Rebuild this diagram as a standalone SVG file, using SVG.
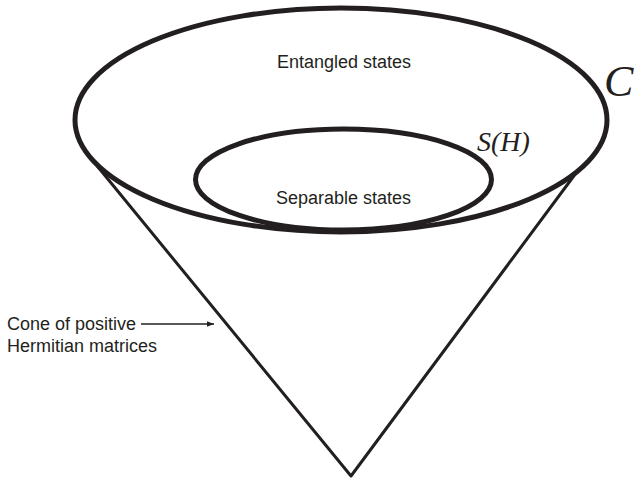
<svg xmlns="http://www.w3.org/2000/svg" width="634" height="485" viewBox="0 0 634 485">
  <defs>
    <style>
      .shape { fill: none; stroke: #231f20; stroke-linecap: round; stroke-linejoin: round; }
      .thick { stroke-width: 5; }
      .cone { stroke-width: 3; }
      .lbl { font-family: "Liberation Sans", Arial, sans-serif; font-size: 18px; fill: #231f20; }
      .math { font-family: "Liberation Serif", "Times New Roman", serif; font-style: italic; fill: #231f20; }
    </style>
    <marker id="arrow" viewBox="0 0 10 10" refX="10" refY="5" markerWidth="7" markerHeight="7" markerUnits="userSpaceOnUse" orient="auto">
      <path d="M0,1 L10,5 L0,9 Z" fill="#231f20"/>
    </marker>
  </defs>
  <rect width="634" height="485" fill="#ffffff"/>

  <g id="cone">
    <path class="shape cone" d="M98,167 L351,476 L576,173"/>
  </g>

  <g id="entangled">
    <ellipse class="shape thick" cx="341" cy="120" rx="266" ry="112"/>
    <text class="lbl" x="344" y="68" text-anchor="middle">Entangled states</text>
    <text class="math" x="604" y="96" font-size="44">C</text>
  </g>

  <g id="separable">
    <ellipse class="shape thick" cx="343.5" cy="179.5" rx="148" ry="50.5"/>
    <text class="lbl" x="343.5" y="204" text-anchor="middle">Separable states</text>
    <text class="math" x="477" y="151" font-size="28">S(H)</text>
  </g>

  <g id="cone-label">
    <text class="lbl" x="7" y="330">Cone of positive</text>
    <text class="lbl" x="7" y="352">Hermitian matrices</text>
  </g>

  <g id="connectors">
    <line x1="141" y1="324" x2="214" y2="324" stroke="#231f20" stroke-width="1.5" marker-end="url(#arrow)"/>
  </g>
</svg>
